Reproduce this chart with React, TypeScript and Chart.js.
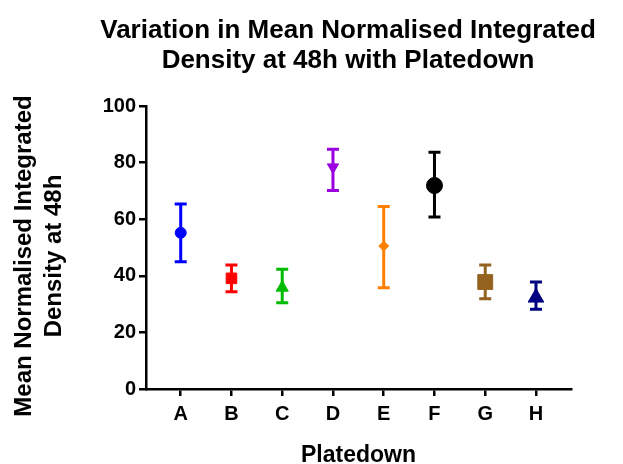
import React, { useEffect, useRef } from "react";
import { Chart, registerables } from "chart.js";

Chart.register(...registerables);

const categories = ["A", "B", "C", "D", "E", "F", "G", "H"];
const means = [55.2, 39.1, 35.8, 78.4, 50.5, 71.9, 37.8, 32.3];
const upperValues = [65.4, 43.8, 42.3, 84.7, 64.5, 83.7, 43.8, 37.8];
const lowerValues = [45.0, 34.4, 30.5, 70.1, 35.8, 60.8, 31.9, 28.2];
const colors = ["#0000FF", "#FF0000", "#00BB00", "#9B00E0", "#FF8000", "#000000", "#93621F", "#000080"];
const pointStyles = ["circle", "rect", "triangle", "triangle", "rectRot", "circle", "rect", "triangle"];
const pointRotations = [0, 0, 0, 180, 0, 0, 0, 0];
const pointRadii = [5.5, 7.5, 7, 6.5, 5, 8, 10.5, 9];
const yTicks = [0, 20, 40, 60, 80, 100];

const FONT = "'Liberation Sans', Arial, sans-serif";

const errorBarPlugin = {
  id: "errorBars",
  beforeDatasetsDraw(chart: any) {
    const { ctx, scales } = chart;
    const xs = scales.x;
    const ys = scales.y;
    ctx.save();
    ctx.lineWidth = 3;
    ctx.lineCap = "butt";
    categories.forEach((_, i) => {
      const x = xs.getPixelForValue(i);
      const yT = ys.getPixelForValue(upperValues[i]);
      const yB = ys.getPixelForValue(lowerValues[i]);
      ctx.strokeStyle = colors[i];
      ctx.beginPath();
      ctx.moveTo(x, yT);
      ctx.lineTo(x, yB);
      ctx.moveTo(x - 6, yT);
      ctx.lineTo(x + 6, yT);
      ctx.moveTo(x - 6, yB);
      ctx.lineTo(x + 6, yB);
      ctx.stroke();
    });
    ctx.restore();
  },
};

const titlesPlugin = {
  id: "customTitles",
  afterDraw(chart: any) {
    const { ctx, chartArea } = chart;
    ctx.save();
    ctx.fillStyle = "#000";
    ctx.textAlign = "center";
    ctx.textBaseline = "alphabetic";
    ctx.font = `bold 26px ${FONT}`;
    ctx.fillText("Variation in Mean Normalised Integrated", 348, 38);
    ctx.fillText("Density at 48h with Platedown", 348, 68);

    ctx.font = `bold 23px ${FONT}`;
    ctx.fillText("Platedown", (chartArea.left + chartArea.right) / 2, 462);

    ctx.save();
    ctx.translate(0, 256);
    ctx.rotate(-Math.PI / 2);
    ctx.font = `bold 24px ${FONT}`;
    ctx.fillText("Mean Normalised Integrated", 0, 31);
    ctx.fillText("Density at 48h", 0, 61);
    ctx.restore();
    ctx.restore();
  },
};

export default function App() {
  const canvasRef = useRef<HTMLCanvasElement | null>(null);

  useEffect(() => {
    if (!canvasRef.current) return;
    const chart = new Chart(canvasRef.current, {
      type: "scatter",
      data: {
        datasets: [
          {
            label: "Mean",
            data: means.map((m, i) => ({ x: i, y: m })),
            pointStyle: pointStyles as any,
            rotation: pointRotations,
            radius: pointRadii,
            pointRadius: pointRadii,
            pointHoverRadius: pointRadii,
            backgroundColor: colors,
            borderColor: colors,
            borderWidth: 1,
          } as any,
        ],
      },
      options: {
        animation: false,
        responsive: false,
        maintainAspectRatio: false,
        layout: { padding: { top: 106, right: 52, left: 0, bottom: 0 } },
        plugins: {
          legend: { display: false },
          title: { display: false },
          tooltip: { enabled: false },
        },
        scales: {
          x: {
            type: "linear",
            min: -0.684,
            max: 7.69,
            afterFit(scale: any) {
              scale.height = 75;
            },
            afterBuildTicks(scale: any) {
              scale.ticks = categories.map((_, i) => ({ value: i }));
            },
            ticks: {
              autoSkip: false,
              maxRotation: 0,
              padding: 6,
              color: "#000",
              font: { family: FONT, size: 20, weight: "bold" },
              callback: (v: any) => categories[Math.round(Number(v))] ?? "",
            },
            grid: { drawOnChartArea: false, drawTicks: true, tickLength: 7, color: "#000", lineWidth: 2.5 },
            border: { color: "#000", width: 2.5 },
          },
          y: {
            type: "linear",
            min: 0,
            max: 100,
            afterFit(scale: any) {
              scale.width = 146;
            },
            afterBuildTicks(scale: any) {
              scale.ticks = yTicks.map((v) => ({ value: v }));
            },
            ticks: {
              padding: 3,
              color: "#000",
              font: { family: FONT, size: 20, weight: "bold" },
            },
            grid: { drawOnChartArea: false, drawTicks: true, tickLength: 7, color: "#000", lineWidth: 2.5 },
            border: { color: "#000", width: 2.5 },
          },
        },
      } as any,
      plugins: [errorBarPlugin, titlesPlugin],
    });
    return () => chart.destroy();
  }, []);

  return (
    <div style={{ position: "fixed", left: 0, top: 0, width: 623, height: 464, background: "#fff" }}>
      <canvas ref={canvasRef} width={623} height={464} style={{ width: 623, height: 464, display: "block" }} />
    </div>
  );
}
